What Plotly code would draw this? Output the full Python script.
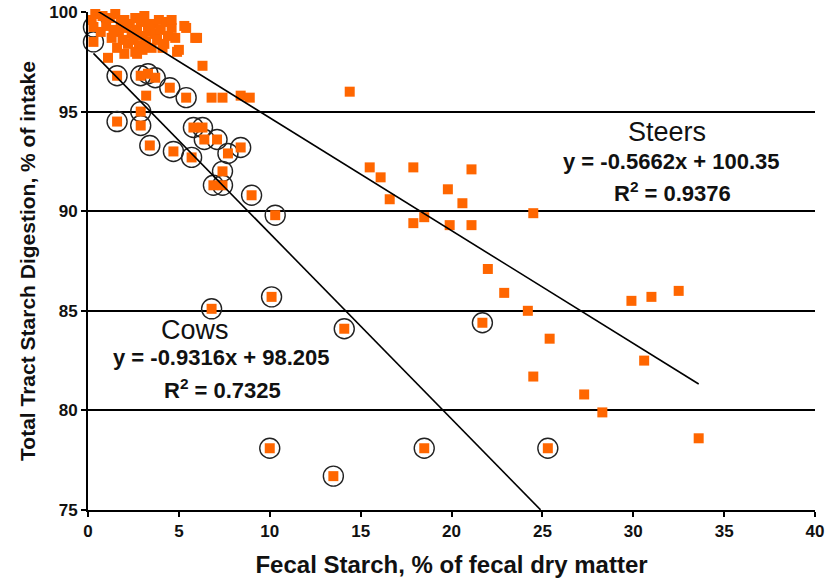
import plotly.graph_objects as go

# Steers (uncircled orange squares)
steer_x = [0.2, 0.4, 0.8, 1.2, 1.5, 1.8, 2.0, 2.3, 2.6, 2.9, 3.1, 3.3, 3.6, 3.9, 4.3, 4.6,
           1.0, 1.4, 1.7, 2.1, 2.4, 2.7, 3.0, 3.4, 3.7, 4.0, 4.4, 1.3, 1.9, 2.2, 2.5, 2.8,
           3.2, 3.5, 3.8, 4.2, 4.8, 5.3, 1.6, 2.0, 2.6, 3.0, 4.1, 4.9, 5.9, 1.1, 0.7, 5.0,
           2.7, 3.1, 6.0, 5.4, 4.6,
           6.3, 3.2, 6.8, 7.4, 8.4, 8.9,
           14.4, 15.5, 16.1, 16.6, 17.9, 21.1, 19.8, 20.6, 17.9, 18.5, 19.9, 21.1, 22.0,
           24.5, 22.9, 24.2, 25.4, 24.5, 27.3, 28.3, 29.9, 31.0, 32.5, 30.6, 33.6]
steer_y = [99.6, 99.9, 99.8, 99.7, 99.9, 99.5, 99.6, 99.4, 99.7, 99.5, 99.8, 99.3, 99.4, 99.6, 99.5, 99.2,
           99.3, 99.1, 99.0, 99.2, 98.9, 99.1, 98.8, 99.0, 98.9, 99.1, 98.8, 98.7, 98.6, 98.4, 98.6, 98.3,
           98.5, 98.2, 98.6, 98.4, 98.7, 99.3, 98.2, 97.9, 98.0, 98.1, 98.2, 98.0, 98.7, 97.7, 99.0, 98.1,
           97.9, 98.3, 98.7, 99.2, 99.6,
           97.3, 95.8, 95.7, 95.7, 95.8, 95.7,
           96.0, 92.2, 91.7, 90.6, 92.2, 92.1, 91.1, 90.4, 89.4, 89.7, 89.3, 89.3, 87.1,
           89.9, 85.9, 85.0, 83.6, 81.7, 80.8, 79.9, 85.5, 85.7, 86.0, 82.5, 78.6]

# Cows (circled orange squares)
cow_x = [0.3, 0.3, 1.6, 2.9, 3.3, 3.7, 4.5, 5.4, 2.9, 1.6, 2.9, 3.4, 5.8, 6.3, 6.4, 7.1,
         4.7, 5.7, 7.7, 8.4, 7.4, 6.9, 7.4, 9.0, 10.3, 10.1, 6.8, 14.1, 21.7, 10.0, 13.5,
         18.5, 25.3]
cow_y = [99.25, 98.5, 96.8, 96.8, 96.9, 96.7, 96.2, 95.7, 95.0, 94.5, 94.3, 93.3, 94.2, 94.2, 93.6, 93.6,
         93.0, 92.7, 92.9, 93.2, 92.0, 91.3, 91.3, 90.8, 89.8, 85.7, 85.1, 84.1, 84.4, 78.1, 76.7,
         78.1, 78.1]

steer_fit = (-0.5662, 100.35)
cow_fit = (-0.9316, 98.205)
steer_line_x = [0.0, 33.6]
cow_line_x = [0.3, 24.9]

orange = "#FF6600"
fig = go.Figure()

fig.add_trace(go.Scatter(
    x=cow_x, y=cow_y, mode="markers",
    marker=dict(symbol="circle-open", size=20, color="#222222", line=dict(width=1.4)),
    hoverinfo="skip", showlegend=False, cliponaxis=False))
fig.add_trace(go.Scatter(
    x=steer_x + cow_x, y=steer_y + cow_y, mode="markers",
    marker=dict(symbol="square", size=10, color=orange), showlegend=False, cliponaxis=False))

fig.add_trace(go.Scatter(
    x=steer_line_x, y=[steer_fit[0] * v + steer_fit[1] for v in steer_line_x],
    mode="lines", line=dict(color="black", width=1.6), showlegend=False))
fig.add_trace(go.Scatter(
    x=cow_line_x, y=[cow_fit[0] * v + cow_fit[1] for v in cow_line_x],
    mode="lines", line=dict(color="black", width=1.6), showlegend=False))

ann_font = "Liberation Sans, Arial, sans-serif"
anns = [
    dict(x=667, y=132, text="Steers", size=27),
    dict(x=671, y=162, text="<b>y = -0.5662x + 100.35</b>", size=22),
    dict(x=672, y=192, text="<b>R<sup>2</sup> = 0.9376</b>", size=22),
    dict(x=195, y=330, text="Cows", size=27),
    dict(x=221, y=357, text="<b>y = -0.9316x + 98.205</b>", size=22),
    dict(x=222, y=389, text="<b>R<sup>2</sup> = 0.7325</b>", size=22),
]
W, H = 826, 587
L, R, T, B = 88, 11, 12, 77
pw, ph = W - L - R, H - T - B
for a in anns:
    fig.add_annotation(
        x=(a["x"] - L) / pw, y=1 - (a["y"] - T) / ph, xref="paper", yref="paper",
        text=a["text"], showarrow=False, xanchor="center", yanchor="middle",
        font=dict(family=ann_font, size=a["size"], color="#111111"))

tick_font = dict(family="Liberation Sans, Arial, sans-serif", size=17, color="#111111", weight="bold")
xtitle_font = dict(family="Liberation Sans, Arial, sans-serif", size=24, color="#111111", weight="bold")
ytitle_font = dict(family="Liberation Sans, Arial, sans-serif", size=21, color="#111111", weight="bold")

fig.update_layout(
    width=W, height=H, margin=dict(l=L, r=R, t=T, b=B, autoexpand=False),
    paper_bgcolor="white", plot_bgcolor="white",
    xaxis=dict(range=[0, 40], tickvals=[0, 5, 10, 15, 20, 25, 30, 35, 40], automargin=False,
               showgrid=False, zeroline=False, showline=True, linecolor="black", linewidth=2,
               ticks="outside", ticklen=5, tickwidth=1.5, tickcolor="black",
               tickfont=tick_font,
               title=dict(text="Fecal Starch, % of fecal dry matter", font=xtitle_font, standoff=16)),
    yaxis=dict(range=[75, 100], tickvals=[75, 80, 85, 90, 95, 100], automargin=False,
               showgrid=True, gridcolor="black", gridwidth=1.6, zeroline=False,
               showline=True, linecolor="black", linewidth=2,
               ticks="outside", ticklen=5, tickwidth=1.5, tickcolor="black",
               tickfont=tick_font,
               title=dict(text="Total Tract Starch Digestion, % of intake", font=ytitle_font, standoff=8)),
)

fig.write_html("out.html")
